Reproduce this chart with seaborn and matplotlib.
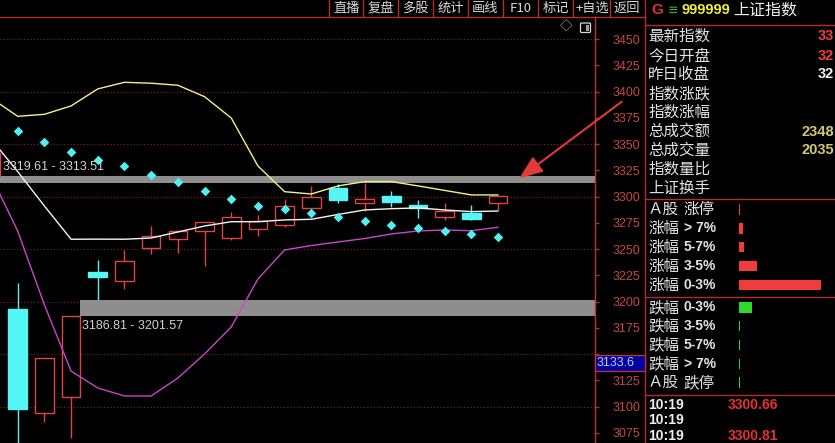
import numpy as np
import matplotlib
matplotlib.use("Agg")
import matplotlib.pyplot as plt
from matplotlib.patches import Rectangle, FancyBboxPatch
from matplotlib.lines import Line2D
import seaborn as sns

W, H = 835, 443
CJK = ['Noto Sans CJK SC', 'DejaVu Sans']
LAT = ['Liberation Sans', 'DejaVu Sans']

# ---- index candles (session 0 is the prior one, clipped at the left edge) ----
sessions = list(range(20))
opens = [3319.61, 3192.8, 3094.3, 3109.5, 3228.3, 3219.5, 3251.5, 3260.0, 3267.7, 3261.0,
         3269.6, 3272.8, 3289.0, 3308.1, 3293.8, 3300.7, 3292.1, 3281.0, 3284.8, 3294.3]
closes = [3341.7, 3097.5, 3146.1, 3186.81, 3223.8, 3239.1, 3262.3, 3267.8, 3275.7, 3280.4,
          3276.9, 3291.2, 3299.5, 3296.9, 3297.9, 3295.3, 3289.0, 3286.4, 3279.1, 3300.81]
highs = [3346.0, 3217.6, 3146.1, 3186.81, 3239.7, 3249.3, 3272.4, 3268.5, 3276.3, 3285.2,
         3282.6, 3297.6, 3310.5, 3312.2, 3313.51, 3305.8, 3296.9, 3294.3, 3292.1, 3300.81]
lows = [3319.61, 3055.0, 3085.7, 3069.9, 3201.57, 3212.1, 3245.2, 3246.3, 3234.3, 3258.8,
        3262.9, 3270.9, 3289.0, 3293.8, 3286.4, 3290.0, 3280.0, 3277.9, 3277.9, 3287.4]

# channel lines
upper_band = [3394.0, 3376.6, 3378.5, 3386.5, 3402.7, 3409.0, 3408.1, 3406.2, 3395.3, 3375.0,
              3329.3, 3304.8, 3302.6, 3310.3, 3314.4, 3314.4, 3310.3, 3306.0, 3301.7, 3301.7]
middle_band = [3355.0, 3323.9, 3291.2, 3259.5, 3259.6, 3259.5, 3260.7, 3266.4, 3272.1, 3276.2,
               3276.2, 3277.9, 3278.5, 3283.1, 3287.4, 3288.6, 3289.3, 3287.4, 3285.8, 3286.4]
lower_band = [3320.0, 3267.3, 3197.1, 3133.9, 3117.8, 3110.2, 3110.2, 3127.3, 3150.2, 3175.9,
              3221.6, 3249.3, 3253.5, 3256.9, 3260.2, 3264.5, 3267.4, 3268.3, 3267.6, 3270.9]
stop_dots = [np.nan, 3362.9, 3352.4, 3342.9, 3335.0, 3329.6, 3321.0, 3313.8, 3305.8, 3298.1,
             3291.5, 3288.3, 3284.8, 3281.0, 3277.2, 3273.4, 3270.2, 3267.4, 3264.8, 3261.7]

# unfilled gaps: (session where the gap opens, level at open, level at close)
gap_sessions = [0, 3]
gap_from = [3319.61, 3186.81]
gap_to = [3313.51, 3201.57]

price_ticks = list(range(3075, 3451, 25))
hidden_tick = 3150          # sits under the cursor price box
grid_levels = list(range(3100, 3451, 50))
cursor_price = "3133.6"

# ---- side panel data ----
toolbar_items = ['直播', '复盘', '多股', '统计', '画线', 'F10', '标记', '+自选', '返回']
toolbar_x = [346.7, 380.5, 415.5, 450.5, 485.5, 520.7, 555.5, 592.0, 627.0]
toolbar_seps = [329.3, 363.3, 398.3, 433.3, 468.3, 503.3, 538.3, 573.3, 610.0]

info_labels = ['最新指数', '今日开盘', '昨日收盘', '指数涨跌', '指数涨幅',
               '总成交额', '总成交量', '指数量比', '上证换手']
# the value column is scrolled, only its leading digits fit in the panel
info_values = ['33', '32', '32', '', '', '2348', '2035', '', '']
info_colors = ['#f03c3c', '#f03c3c', '#f0f0f0', '', '', '#d2c86e', '#d2c86e', '', '']

rise_names = ['Ａ股 涨停', '涨幅 > 7%', '涨幅 5-7%', '涨幅 3-5%', '涨幅 0-3%']
rise_counts = [3.5, 15, 18, 63, 290]
fall_names = ['跌幅 0-3%', '跌幅 3-5%', '跌幅 5-7%', '跌幅 > 7%', 'Ａ股 跌停']
fall_counts = [46, 3, 3, 3, 3]

tick_times = ['10:19', '10:19', '10:19']
tick_prices = ['3300.66', '', '3300.81']

# ---------------------------------------------------------------------------
sns.set_style('dark')
plt.rcParams['font.family'] = LAT + ['Noto Sans CJK SC']

fig = plt.figure(figsize=(W / 100, H / 100), dpi=100, facecolor='black')


def fx(x):
    return x / W


def fy(y):
    return 1 - y / H


def ftext(x, y, s, **kw):
    kw.setdefault('va', 'center')
    return fig.text(fx(x), fy(y), s, **kw)


RED_LINE = '#b42c2c'

ax = fig.add_axes([0, 0, 594.5 / W, (H - 17) / H])
ax.set_facecolor('black')

for lv in grid_levels:
    ax.axhline(lv, color='#8a2424', lw=0.8, ls=(0, (1, 2)), zorder=0.5)

x_right = 22.61
for i0, a, b in zip(gap_sessions, gap_from, gap_to):
    ax.fill_between([i0 + 0.35, x_right], min(a, b), max(a, b), color='#8e8e8e', lw=0, zorder=1)

ax.text(0.45, gap_from[0] + 8.7, f"{gap_from[0]:.2f} - {gap_to[0]:.2f}",
        color='#d2d2d2', fontsize=9, va='center', ha='left', zorder=6)
ax.text(gap_sessions[1] + 0.41, gap_from[1] - 9.5, f"{gap_from[1]:.2f} - {gap_to[1]:.2f}",
        color='#d2d2d2', fontsize=9, va='center', ha='left', zorder=6)

# candles
RISE = '#e04444'
FALL = '#54f6f6'
for i, o, c, h, l in zip(sessions, opens, closes, highs, lows):
    up = c >= o
    col = RISE if up else FALL
    ax.vlines(i, l, h, colors=col, lw=1, zorder=2)
    ax.bar(i, abs(c - o), bottom=min(o, c), width=0.7,
           facecolor='black' if up else FALL, edgecolor=col, linewidth=1, zorder=2.5)

sns.lineplot(x=sessions, y=upper_band, ax=ax, color='#f2f28c', lw=1, zorder=3)
sns.lineplot(x=sessions, y=middle_band, ax=ax, color='#f4f4f4', lw=1, zorder=3)
sns.lineplot(x=sessions, y=lower_band, ax=ax, color='#cc44cc', lw=1, zorder=3)
sns.scatterplot(x=sessions, y=stop_dots, ax=ax, marker='D', s=24, color='#50f0f0',
                linewidth=0, zorder=5)

ax.set_xlim(0.337, x_right)
ax.set_ylim(3065.4, 3471.2)
ax.set_xlabel('')
ax.set_ylabel('')
ax.set_xticks([])
ax.yaxis.tick_right()
ax.set_yticks(price_ticks)
ax.set_yticklabels(['' if v == hidden_tick else str(v) for v in price_ticks])
ax.tick_params(axis='y', colors=RED_LINE, labelcolor='#c84646', length=3, width=1,
               pad=10, labelsize=9)
for side in ['top', 'left', 'bottom']:
    ax.spines[side].set_visible(False)
ax.spines['right'].set_color('#c03030')
ax.spines['right'].set_linewidth(1)
ax.grid(False)

# cursor price box on the axis
fig.add_artist(Rectangle((fx(594.5), fy(371)), (645 - 594.5) / W, 16 / H,
                         facecolor='#0000a0', edgecolor='#c03030', lw=1,
                         transform=fig.transFigure, zorder=10))
ftext(597, 363.5, cursor_price, color='#c8c8ff', fontsize=9, zorder=11)

# frame lines
fig.add_artist(Line2D([0, fx(645)], [fy(17), fy(17)], color=RED_LINE, lw=1))
fig.add_artist(Line2D([fx(645), fx(645)], [0, 1], color=RED_LINE, lw=1))
for yy in [25, 199, 296.7, 395]:
    fig.add_artist(Line2D([fx(645), 1], [fy(yy), fy(yy)], color=RED_LINE, lw=1))
for xs in toolbar_seps:
    fig.add_artist(Line2D([fx(xs), fx(xs)], [fy(17), 1], color=RED_LINE, lw=1))

# toolbar
for name, xc in zip(toolbar_items, toolbar_x):
    ftext(xc, 8.5, name, color='#d8d8d8', fontsize=9.5, ha='center', family=CJK)

# small chart icons
ftext(566, 27.5, '◇', color='#b8b8b8', fontsize=9, ha='center', family=CJK)
fig.add_artist(FancyBboxPatch((fx(580.5), fy(32.5)), 10 / W, 9.5 / H,
                              boxstyle='round,pad=0,rounding_size=0.002',
                              facecolor='black', edgecolor='#d8d8d8', lw=0.9,
                              transform=fig.transFigure))
fig.add_artist(Rectangle((fx(586), fy(31)), 3.3 / W, 6.5 / H, facecolor='#a0a0a0',
                         lw=0, transform=fig.transFigure))

# arrow pointing at the top gap
ax.annotate('', xy=(517, H - 180), xycoords='figure pixels',
            xytext=(624, H - 100), textcoords='figure pixels',
            arrowprops=dict(arrowstyle='-|>,head_length=0.9,head_width=0.35',
                            color='#e23a3a', lw=1.5, mutation_scale=16),
            annotation_clip=False)

# ---- right-hand quote panel ----
ftext(651, 10.5, 'G', color='#e03030', fontsize=11, fontweight='bold')
ftext(667.5, 10.5, '≡', color='#33bb33', fontsize=9, family=['DejaVu Sans'])
ftext(681, 10.5, '999999', color='#f0f040', fontsize=10.5, fontweight='bold')
ftext(733, 10.5, '上证指数', color='#f0f0f0', fontsize=11.5, family=CJK)

for k, lab in enumerate(info_labels):
    yy = 36.5 + k * 19.0
    ftext(648, yy, lab, color='#e2e2e2', fontsize=11.2, family=CJK)
    if info_values[k]:
        ftext(834, yy, info_values[k], color=info_colors[k], ha='right',
              fontsize=10.5, fontweight='bold')


def draw_row(name, yy):
    head, tail = name.split(' ', 1)
    ftext(648, yy, head, color='#e2e2e2', fontsize=11.2, family=CJK)
    if any('\u4e00' <= ch <= '\u9fff' for ch in tail):
        ftext(683.5, yy, tail, color='#e2e2e2', fontsize=11.2, family=CJK)
    else:
        ftext(684, yy, tail, color='#e2e2e2', fontsize=10, fontweight='bold')


rise_y = [209.3 + k * 18.93 for k in range(5)]
fall_y = [307.3 + k * 18.85 for k in range(5)]
for n, yy in zip(rise_names, rise_y):
    draw_row(n, yy)
for n, yy in zip(fall_names, fall_y):
    draw_row(n, yy)

bar_left, bar_w = 739, 96
for names, counts, ys, pal in [
        (rise_names, rise_counts, rise_y, '#f03c3c'),
        (fall_names, fall_counts, fall_y, '#2ed82e')]:
    step = ys[1] - ys[0]
    top = ys[0] - step / 2
    bot = ys[-1] + step / 2
    bax = fig.add_axes([fx(bar_left), fy(bot), bar_w / W, (bot - top) / H])
    sns.barplot(x=counts, y=names, hue=names, palette=[pal] * len(names), legend=False,
                orient='h', width=0.56, saturation=1, linewidth=0, ax=bax)
    bax.set_xlim(0, 340)
    bax.axis('off')

for k, (t, p) in enumerate(zip(tick_times, tick_prices)):
    yy = 405 + k * 15.5
    ftext(648, yy, t, color='#f0f0f0', fontsize=10, fontweight='bold')
    if p:
        ftext(728, yy, p, color='#e83030', fontsize=10, fontweight='bold')

fig.savefig('out.png', dpi=100, facecolor='black')
